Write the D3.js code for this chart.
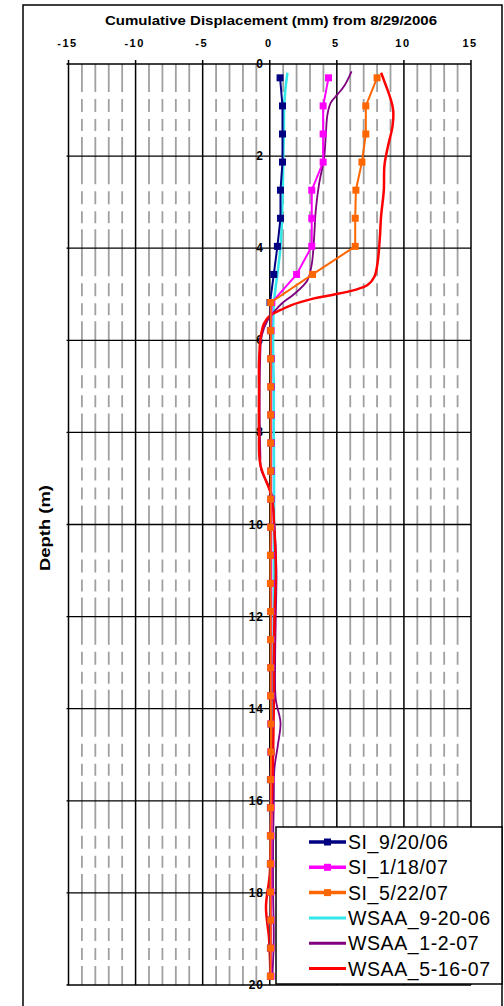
<!DOCTYPE html>
<html>
<head>
<meta charset="utf-8">
<script src="https://cdn.jsdelivr.net/npm/d3@7"></script>
<style>
  body { margin: 0; background: #fff; }
  text { font-family: "Liberation Sans", Arial, sans-serif; }
</style>
</head>
<body>
<script>
const heading = 'Cumulative Displacement (mm) from 8/29/2006'
const yLabel = 'Depth (m)'

const xTicks = [-15, -10, -5, 0, 5, 10, 15]
const depthTicks = [0, 2, 4, 6, 8, 10, 12, 14, 16, 18, 20]

// inclinometer (SI) readings, every 2 ft
const siDepth = [0.30, 0.91, 1.52, 2.13, 2.74, 3.35, 3.96, 4.57, 5.18, 5.79, 6.40, 7.01, 7.62, 8.23, 8.84, 9.45, 10.06,
  10.67, 11.28, 11.89, 12.50, 13.11, 13.72, 14.33, 14.94, 15.54, 16.15, 16.76, 17.37, 17.98, 18.59, 19.20, 19.81]
const si_9_20_06 = [0.77, 0.95, 0.95, 0.95, 0.8, 0.8, 0.57, 0.3, 0.02, 0.05, 0.1, 0.1, 0.1, 0.1, 0.1, 0.1, 0.1,
  0.1, 0.1, 0.1, 0.1, 0.1, 0.1, 0.1, 0.1, 0.05, 0.05, 0.05, 0.05, 0.05, 0.05, 0.05, 0.05]
const si_1_18_07 = [4.38, 3.98, 3.98, 3.98, 3.13, 3.13, 3.13, 2.0, 0.15, 0.1, 0.1, 0.1, 0.1, 0.1, 0.1, 0.1, 0.1,
  0.1, 0.1, 0.1, 0.1, 0.1, 0.1, 0.1, 0.1, 0.1, 0.1, 0.1, 0.1, 0.1, 0.1, 0.1, 0.1]
const si_5_22_07 = [8.0, 7.16, 7.16, 6.87, 6.42, 6.37, 6.37, 3.19, 0.07, 0.07, 0.07, 0.07, 0.07, 0.07, 0.07, 0.07, 0.07,
  0.05, 0.05, 0.07, 0.07, 0.07, 0.07, 0.1, 0.1, 0.07, 0.07, 0.05, 0.05, 0.05, 0.07, 0.07, 0.05]

// WSAA profiles
const wsaa_9_20_06_depth = [0.19, 0.6, 1.0, 1.5, 2.1, 3.0, 3.9, 4.5, 5.16, 6.0, 7.0, 8.0, 9.0, 10.0, 11.0, 12.0, 13.0, 14.0, 15.0, 16.0, 17.0, 18.0, 19.0, 19.8]
const wsaa_9_20_06 = [1.32, 1.15, 1.07, 1.05, 1.0, 0.95, 0.82, 0.6, 0.32, 0.25, 0.3, 0.3, 0.32, 0.32, 0.32, 0.3, 0.28, 0.25, 0.18, 0.1, 0.05, 0.05, 0.08, 0.1]

const wsaa_1_2_07_depth = [0.16, 0.48, 0.66, 0.84, 1.1, 1.54, 2.04, 2.6, 3.18, 3.8, 4.35, 4.7, 5.0, 5.2, 5.38, 5.57, 5.9, 6.5, 7.5, 8.5, 8.8, 9.3, 10.0, 11.0, 12.0, 13.0, 13.8, 14.3, 14.8, 15.3, 16.0, 17.0, 18.0, 19.0, 19.8]
const wsaa_1_2_07 = [6.1, 5.55, 5.05, 4.55, 4.3, 4.18, 4.05, 3.68, 3.43, 3.3, 3.13, 2.8, 1.8, 0.9, 0.32, -0.17, -0.6, -0.72, -0.75, -0.7, -0.65, 0.1, 0.35, 0.5, 0.45, 0.4, 0.45, 0.8, 0.6, 0.35, 0.3, 0.25, 0.25, 0.3, 0.2]

const wsaa_5_16_07_depth = [0.19, 0.5, 0.75, 1.0, 1.35, 1.8, 2.2, 2.75, 3.3, 3.8, 4.33, 4.62, 4.8, 4.91, 5.02, 5.09, 5.24, 5.34, 5.45, 5.63, 5.92, 6.5, 7.0, 8.0, 8.7, 9.4, 10.0, 11.0, 12.0, 13.0, 14.0, 15.0, 16.0, 17.0, 17.6, 18.3, 19.0, 19.8]
const wsaa_5_16_07 = [8.3, 8.7, 9.0, 9.2, 9.15, 8.8, 8.55, 8.5, 8.3, 8.2, 8.03, 7.8, 7.29, 6.29, 4.55, 3.3, 1.57, 0.82, 0.07, -0.42, -0.67, -0.8, -0.8, -0.8, -0.7, 0.15, 0.32, 0.45, 0.35, 0.3, 0.3, 0.25, 0.15, 0.05, 0.0, -0.28, -0.05, 0.05]

const seriesNames = ['SI_9/20/06', 'SI_1/18/07', 'SI_5/22/07', 'WSAA_9-20-06', 'WSAA_1-2-07', 'WSAA_5-16-07']
const seriesColors = ['#000080', '#ff00ff', '#ff6600', '#33e8e8', '#800080', '#ff0000']

const zip = (ds, vs) => ds.map((d, i) => ({ depth: d, value: vs[i] }))

const siSeries = [si_9_20_06, si_1_18_07, si_5_22_07].map((vs, i) => ({
  name: seriesNames[i], color: seriesColors[i], values: zip(siDepth, vs)
}))
const wsaaSeries = [
  [wsaa_9_20_06_depth, wsaa_9_20_06],
  [wsaa_1_2_07_depth, wsaa_1_2_07],
  [wsaa_5_16_07_depth, wsaa_5_16_07]
].map(([ds, vs], i) => ({ name: seriesNames[i + 3], color: seriesColors[i + 3], values: zip(ds, vs) }))

const width = 504
const height = 1006
const plot = { left: 68.5, right: 471, top: 64, bottom: 985 }

const svg = d3.select('body').append('svg')
  .attr('width', width)
  .attr('height', height)

// outer frame
svg.append('rect')
  .attr('x', 23).attr('y', 5)
  .attr('width', 479).attr('height', 1020)
  .attr('fill', 'white')
  .attr('stroke', '#000').attr('stroke-width', 1.5)

const x = d3.scaleLinear().domain([-15, 15]).range([plot.left, plot.right])
const y = d3.scaleLinear().domain([0, 20]).range([plot.top, plot.bottom])

// minor vertical gridlines, dashed like the scan
const p = (y(2) - y(0)) / 92
const dash = [28, 7, 13, 7, 12, 6, 19, 0].map(v => v * p).join(' ')
svg.append('g')
  .selectAll('line')
  .data(d3.range(-14, 15).filter(v => v % 5 !== 0))
  .enter()
  .append('line')
  .attr('x1', d => x(d)).attr('x2', d => x(d))
  .attr('y1', y(0)).attr('y2', y(20))
  .attr('stroke', '#a0a0a0')
  .attr('stroke-width', 1.8)
  .attr('stroke-dasharray', dash)

// horizontal major gridlines
svg.append('g')
  .selectAll('line')
  .data(depthTicks)
  .enter()
  .append('line')
  .attr('x1', plot.left - 2).attr('x2', plot.right)
  .attr('y1', d => y(d)).attr('y2', d => y(d))
  .attr('stroke', '#000')
  .attr('stroke-width', 1.3)

// vertical major gridlines
svg.append('g')
  .selectAll('line')
  .data(xTicks)
  .enter()
  .append('line')
  .attr('x1', d => x(d)).attr('x2', d => x(d))
  .attr('y1', y(0) - 4).attr('y2', y(20))
  .attr('stroke', '#000')
  .attr('stroke-width', 1.5)

// top axis labels
svg.append('g')
  .selectAll('text')
  .data(xTicks)
  .enter()
  .append('text')
  .attr('x', d => x(d) - 1)
  .attr('y', 47)
  .attr('text-anchor', 'middle')
  .attr('font-size', 11)
  .attr('font-weight', 'bold')
  .attr('letter-spacing', 1.5)
  .text(d => d < 0 ? '-' + Math.abs(d) : d)

// depth labels sit against x = 0
svg.append('g')
  .selectAll('text')
  .data(depthTicks)
  .enter()
  .append('text')
  .attr('x', x(0) - 6)
  .attr('y', d => y(d) + 4)
  .attr('text-anchor', 'end')
  .attr('font-size', 12)
  .attr('font-weight', 'bold')
  .attr('letter-spacing', 0.8)
  .text(d => d)

// title
svg.append('text')
  .attr('x', 271).attr('y', 25)
  .attr('text-anchor', 'middle')
  .attr('font-size', 12.5)
  .attr('font-weight', 'bold')
  .attr('textLength', 332)
  .attr('lengthAdjust', 'spacingAndGlyphs')
  .text(heading)

svg.append('text')
  .attr('transform', 'translate(50, 528) rotate(-90)')
  .attr('text-anchor', 'middle')
  .attr('font-size', 14)
  .attr('font-weight', 'bold')
  .attr('textLength', 86)
  .attr('lengthAdjust', 'spacingAndGlyphs')
  .text(yLabel)

const line = d3.line()
  .x(d => x(d.value))
  .y(d => y(d.depth))

// WSAA profiles (smooth), drawn under the SI markers
svg.append('g')
  .selectAll('path')
  .data(wsaaSeries)
  .enter()
  .append('path')
  .attr('d', d => line.curve(d3.curveCatmullRom)(d.values))
  .attr('fill', 'none')
  .attr('stroke', d => d.color)
  .attr('stroke-width', (d, i) => [2.5, 1.8, 2.5][i])

line.curve(d3.curveLinear)

const si = svg.append('g')
  .selectAll('g')
  .data(siSeries)
  .enter()
  .append('g')

si.append('path')
  .attr('d', d => line(d.values))
  .attr('fill', 'none')
  .attr('stroke', d => d.color)
  .attr('stroke-width', 2)

si.selectAll('rect')
  .data(d => d.values.map(v => ({ ...v, color: d.color })))
  .enter()
  .append('rect')
  .attr('x', d => x(d.value) - 3.5)
  .attr('y', d => y(d.depth) - 3.5)
  .attr('width', 7).attr('height', 7)
  .attr('fill', d => d.color)

// legend
const legend = svg.append('g')
  .attr('transform', 'translate(276, 827)')

legend.append('rect')
  .attr('width', 226).attr('height', 157)
  .attr('fill', 'white')
  .attr('stroke', '#000').attr('stroke-width', 1.5)

const item = legend.selectAll('g')
  .data(siSeries.concat(wsaaSeries))
  .enter()
  .append('g')
  .attr('transform', (d, i) => `translate(0, ${15 + i * 25.3})`)

item.append('line')
  .attr('x1', 33).attr('x2', 70)
  .attr('stroke', d => d.color)
  .attr('stroke-width', (d, i) => i < 3 ? 3.5 : 3)

item.filter((d, i) => i < 3)
  .append('rect')
  .attr('x', 48).attr('y', -3.5)
  .attr('width', 7).attr('height', 7)
  .attr('fill', d => d.color)

item.append('text')
  .attr('x', 72).attr('y', 7)
  .attr('font-size', 19.5)
  .attr('letter-spacing', 0.6)
  .text(d => d.name)
</script>
</body>
</html>
